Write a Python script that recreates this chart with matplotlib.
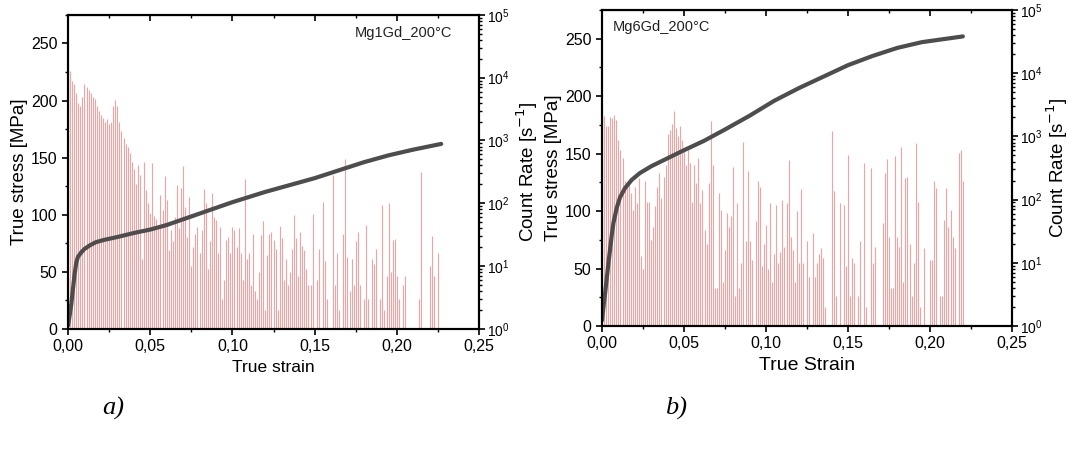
import numpy as np
import matplotlib
matplotlib.use("Agg")
import matplotlib.pyplot as plt
from matplotlib.ticker import FuncFormatter, MultipleLocator, LogLocator, NullFormatter

plt.rcParams['font.family'] = ['Liberation Sans', 'DejaVu Sans']

# stress-strain curves
strain_a = [0, 0.001, 0.002, 0.003, 0.004, 0.005, 0.006, 0.008, 0.010, 0.013, 0.017, 0.022, 0.030,
            0.040, 0.050, 0.060, 0.070, 0.080, 0.090, 0.100, 0.110, 0.120, 0.135, 0.150, 0.165,
            0.180, 0.195, 0.210, 0.227]
stress_a = [3, 12, 22, 35, 48, 58, 63, 67, 70, 73, 76, 78, 80.5, 84, 87, 91, 96, 101, 106, 111,
            115.5, 120, 126, 132, 139, 146, 152, 157, 162]

strain_b = [0, 0.001, 0.002, 0.003, 0.004, 0.005, 0.006, 0.007, 0.009, 0.011, 0.014, 0.018, 0.023,
            0.030, 0.040, 0.050, 0.062, 0.075, 0.090, 0.105, 0.120, 0.135, 0.150, 0.165, 0.180,
            0.195, 0.210, 0.220]
stress_b = [5, 18, 30, 43, 56, 68, 80, 90, 103, 112, 120, 127, 133, 139, 146, 153, 161, 171, 183,
            196, 207, 217, 227, 235, 242, 247, 250, 252]

# acoustic emission count rate, one value per strain step (0 = no counts)
strain_step = 0.00125
counts_a = [15800, 12600, 8900, 7900, 5600, 4000, 3500, 5000, 7900, 7100,
            6300, 5600, 5000, 4500, 3500, 3000, 2500, 2300, 2000, 2200,
            1800, 2000, 3500, 4400, 3500, 2000, 1400, 1100, 890, 790,
            630, 450, 350, 200, 400, 280, 13, 450, 160, 100,
            70, 440, 63, 56, 40, 135, 79, 270, 112, 18,
            37, 25, 60, 195, 40, 174, 390, 87, 29, 126,
            10, 20, 32, 42, 16, 37, 166, 100, 9, 25,
            145, 60, 54, 16, 42, 3, 6, 26, 29, 16,
            42, 37, 20, 40, 16, 6, 240, 13, 16, 5,
            33, 4, 3, 8, 31, 52, 2, 15, 33, 35,
            26, 19, 2, 43, 28, 6, 13, 5, 8, 19,
            65, 28, 7, 35, 21, 18, 9, 5, 5, 68,
            0, 6, 19, 0, 105, 12, 3, 0, 0, 280,
            5, 16, 2, 0, 33, 510, 14, 4, 13, 5,
            25, 35, 5, 0, 3, 45, 3, 0, 13, 11,
            19, 0, 3, 93, 2, 7, 102, 8, 26, 27,
            7, 3, 0, 5, 7, 0, 0, 0, 0, 0,
            0, 3, 316, 0, 0, 0, 10, 30, 7, 0,
            16, 0]
counts_b = [2200, 2100, 1450, 1450, 2000, 1950, 2150, 1800, 890, 620,
            450, 200, 160, 180, 126, 69, 160, 87, 220, 13,
            8, 200, 93, 93, 23, 37, 79, 160, 260, 105,
            230, 350, 1100, 1260, 1550, 2500, 1350, 1000, 1450, 890,
            620, 350, 620, 380, 93, 350, 180, 460, 87, 140,
            33, 20, 180, 1740, 350, 4, 4, 126, 69, 5,
            16, 62, 37, 54, 330, 3, 87, 4, 10, 830,
            22, 280, 22, 11, 0, 46, 200, 160, 9, 20,
            40, 8, 87, 5, 14, 83, 10, 15, 100, 18,
            87, 430, 26, 16, 5, 65, 10, 145, 10, 0,
            22, 6, 0, 30, 6, 10, 14, 17, 12, 2,
            0, 0, 1200, 135, 3, 0, 87, 0, 83, 9,
            510, 3, 12, 10, 0, 3, 22, 0, 380, 2,
            0, 320, 10, 18, 0, 0, 0, 42, 260, 440,
            26, 4, 4, 490, 26, 18, 680, 5, 220, 230,
            20, 3, 10, 790, 93, 2, 0, 17, 0, 0,
            11, 11, 200, 150, 0, 3, 3, 48, 150, 37,
            69, 26, 17, 0, 550, 620, 200]

panels = [
    dict(strain=strain_a, stress=stress_a, counts=counts_a, xlabel='True strain', xl_size=12.5,
         name='Mg1Gd_200°C', name_pos=(0.935, 0.943), name_ha='right', tag='a)', tag_x=0.106,
         rect=[0.0637, 0.269, 0.3848, 0.698], rlab_x=1.118),
    dict(strain=strain_b, stress=stress_b, counts=counts_b, xlabel='True Strain', xl_size=14,
         name='Mg6Gd_200°C', name_pos=(0.027, 0.946), name_ha='left', tag='b)', tag_x=0.633,
         rect=[0.5637, 0.2756, 0.3839, 0.7022], rlab_x=1.11),
]

comma = FuncFormatter(lambda v, p: f'{v:.2f}'.replace('.', ','))

fig = plt.figure(figsize=(10.68, 4.5), dpi=100)

for p in panels:
    ax = fig.add_axes(p['rect'])
    ax2 = ax.twinx()

    c = np.array(p['counts'], dtype=float)
    x = np.arange(len(c)) * strain_step
    m = c > 1
    ax2.vlines(x[m], 1, c[m], color='#efa3a3', linewidth=0.8)
    ax2.set_yscale('log')
    ax2.set_ylim(1, 1e5)
    ax2.yaxis.set_major_locator(LogLocator(base=10, numticks=10))
    ax2.yaxis.set_minor_locator(LogLocator(base=10, subs=np.arange(2, 10), numticks=10))
    ax2.yaxis.set_minor_formatter(NullFormatter())
    ax2.set_ylabel('Count Rate [s$^{-1}$]', fontsize=13.5)
    ax2.yaxis.label.set_va('center')
    ax2.yaxis.set_label_coords(p['rlab_x'], 0.5)

    ax.set_zorder(ax2.get_zorder() + 1)
    ax.patch.set_visible(False)
    ax.plot(p['strain'], p['stress'], color='#4d4d4d', linewidth=3, solid_capstyle='round')
    ax.set_xlim(0, 0.25)
    ax.set_ylim(0, 275)
    ax.xaxis.set_major_locator(MultipleLocator(0.05))
    ax.xaxis.set_minor_locator(MultipleLocator(0.025))
    ax.xaxis.set_major_formatter(comma)
    ax.yaxis.set_major_locator(MultipleLocator(50))
    ax.yaxis.set_minor_locator(MultipleLocator(25))
    ax.set_xlabel(p['xlabel'], fontsize=p['xl_size'])
    ax.set_ylabel('True stress [MPa]', fontsize=13.5, labelpad=2)
    ax.text(p['name_pos'][0], p['name_pos'][1], p['name'], transform=ax.transAxes,
            ha=p['name_ha'], va='center', fontsize=10.5, color='#222222')

    for a in (ax, ax2):
        for s in a.spines.values():
            s.set_linewidth(1.5)
        a.tick_params(which='major', length=4, width=1.2, labelsize=11.5, direction='out')
        a.tick_params(which='minor', length=2.5, width=1)
    ax2.tick_params(which='major', labelsize=10, pad=2)

    top = ax.secondary_xaxis('top')
    top.xaxis.set_major_locator(MultipleLocator(0.05))
    top.xaxis.set_minor_locator(MultipleLocator(0.025))
    top.tick_params(which='major', direction='in', length=4, width=1.2, labeltop=False)
    top.tick_params(which='minor', direction='in', length=2.5, width=1)

    fig.text(p['tag_x'], 0.093, p['tag'], fontsize=19,
             family='Liberation Serif', style='italic', ha='center', va='center')

fig.savefig('out.png', dpi=100)
